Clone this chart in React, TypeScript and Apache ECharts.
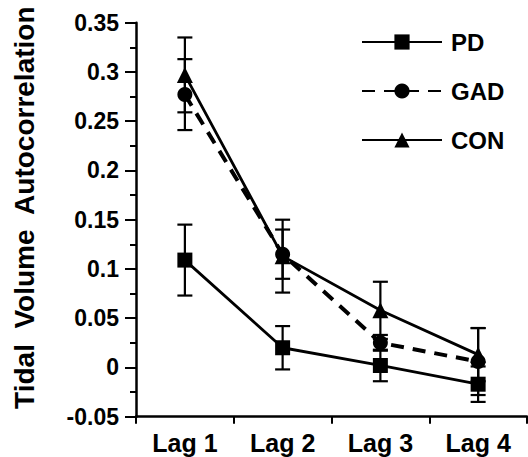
import React, { useEffect, useRef } from "react";
import * as echarts from "echarts";

const categories = ["Lag 1", "Lag 2", "Lag 3", "Lag 4"];
const pdValues = [0.109, 0.02, 0.002, -0.017];
const pdErrors = [0.036, 0.022, 0.016, 0.018];
const gadValues = [0.277, 0.115, 0.025, 0.006];
const gadErrors = [0.036, 0.025, 0.008, 0.034];
const conValues = [0.297, 0.113, 0.058, 0.013];
const conErrors = [0.038, 0.037, 0.029, 0.027];
const seriesNames = ["PD", "GAD", "CON"];
const yAxisTitle = "Tidal  Volume  Autocorrelation";

const FONT = "'Liberation Sans', Arial, sans-serif";

function errorData(values: number[], errors: number[]) {
  return values.map((v, i) => [i, v - errors[i], v + errors[i]]);
}

function errorSeries(name: string, values: number[], errors: number[]) {
  return {
    type: "custom",
    name: name + "-err",
    z: 1,
    silent: true,
    renderItem: (params: any, api: any) => {
      const idx = api.value(0);
      const lo = api.coord([idx, api.value(1)]);
      const hi = api.coord([idx, api.value(2)]);
      const hw = 7.5;
      const style = { stroke: "#000", lineWidth: 2.2 };
      return {
        type: "group",
        children: [
          { type: "line", shape: { x1: hi[0], y1: hi[1], x2: lo[0], y2: lo[1] }, style },
          { type: "line", shape: { x1: hi[0] - hw, y1: hi[1], x2: hi[0] + hw, y2: hi[1] }, style },
          { type: "line", shape: { x1: lo[0] - hw, y1: lo[1], x2: lo[0] + hw, y2: lo[1] }, style },
        ],
      };
    },
    encode: { x: 0, y: [1, 2] },
    data: errorData(values, errors),
  };
}

export default function App() {
  const ref = useRef<HTMLDivElement>(null);
  useEffect(() => {
    if (!ref.current) return;
    const chart = echarts.init(ref.current, null, { renderer: "svg" });
    chart.setOption({
      animation: false,
      backgroundColor: "#fff",
      textStyle: { fontFamily: FONT },
      grid: { left: 136, right: 1, top: 22.7, bottom: 40.3 },
      legend: {
        orient: "vertical",
        left: 356,
        top: 24,
        itemWidth: 80,
        itemHeight: 19,
        itemGap: 23,
        data: seriesNames,
        textStyle: {
          fontFamily: FONT,
          fontWeight: "bold",
          fontSize: 24,
          lineHeight: 26,
          color: "#000",
          padding: [0, 0, 0, 4],
        },
      },
      xAxis: {
        type: "category",
        data: categories,
        boundaryGap: true,
        axisLine: { onZero: false, lineStyle: { color: "#000", width: 2.5 } },
        axisTick: { show: true, length: 7, lineStyle: { color: "#000", width: 2 } },
        axisLabel: {
          color: "#000",
          fontFamily: FONT,
          fontWeight: "bold",
          fontSize: 25,
          margin: 14,
        },
        splitLine: { show: false },
      },
      yAxis: {
        type: "value",
        min: -0.05,
        max: 0.35,
        interval: 0.05,
        name: yAxisTitle,
        nameLocation: "middle",
        nameGap: 98,
        nameTextStyle: {
          color: "#000",
          fontFamily: FONT,
          fontWeight: "bold",
          fontSize: 28,
          padding: [0, 0, 0, 24],
        },
        axisLine: { show: true, lineStyle: { color: "#000", width: 2.5 } },
        axisTick: { show: true, length: 11, lineStyle: { color: "#000", width: 2 } },
        minorTick: { show: true, splitNumber: 2, length: 6, lineStyle: { color: "#000", width: 2 } },
        axisLabel: {
          color: "#000",
          fontFamily: FONT,
          fontWeight: "bold",
          fontSize: 23,
          margin: 17,
          formatter: (v: number) => String(parseFloat(v.toFixed(2))),
        },
        splitLine: { show: false },
        minorSplitLine: { show: false },
      },
      series: [
        errorSeries("PD", pdValues, pdErrors),
        errorSeries("GAD", gadValues, gadErrors),
        errorSeries("CON", conValues, conErrors),
        {
          type: "line",
          name: "PD",
          data: pdValues,
          symbol: "rect",
          symbolSize: 15,
          z: 3,
          itemStyle: { color: "#000" },
          lineStyle: { color: "#000", width: 2.8 },
        },
        {
          type: "line",
          name: "GAD",
          data: gadValues,
          symbol: "circle",
          symbolSize: 15,
          z: 3,
          itemStyle: { color: "#000" },
          lineStyle: { color: "#000", width: 4, type: [13, 9] },
        },
        {
          type: "line",
          name: "CON",
          data: conValues,
          symbol: "triangle",
          symbolSize: 16,
          z: 3,
          itemStyle: { color: "#000" },
          lineStyle: { color: "#000", width: 2.8 },
        },
      ],
    });
    return () => chart.dispose();
  }, []);
  return (
    <div
      ref={ref}
      style={{ position: "fixed", left: 0, top: 0, width: 528, height: 457, background: "#fff" }}
    />
  );
}
